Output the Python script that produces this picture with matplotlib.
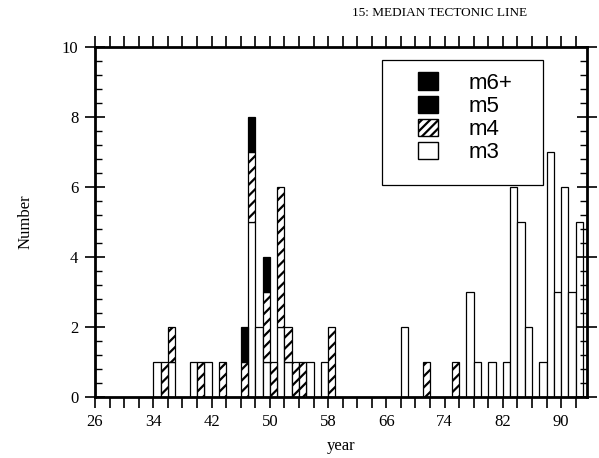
import matplotlib
matplotlib.use('Agg')
import matplotlib.pyplot as plt
from matplotlib.ticker import MultipleLocator
from matplotlib.patches import Patch, Rectangle
import numpy as np

# ---- data ----
years = [34, 35, 36, 39, 40, 41, 43, 46, 47, 48, 49, 50, 51, 52, 53, 54, 55, 57, 58,
         68, 71, 75, 77, 78, 80, 82, 83, 84, 85, 87, 88, 89, 90, 91, 92]
m3 = [1, 0, 1, 1, 0, 1, 0, 0, 5, 2, 1, 0, 2, 1, 0, 0, 1, 1, 0,
      2, 0, 0, 3, 1, 1, 1, 6, 5, 2, 1, 7, 3, 6, 3, 5]
m4 = [0, 1, 1, 0, 1, 0, 1, 1, 2, 0, 2, 1, 4, 1, 1, 1, 0, 0, 2,
      0, 1, 1, 0, 0, 0, 0, 0, 0, 0, 0, 0, 0, 0, 0, 0]
m5 = [0, 0, 0, 0, 0, 0, 0, 1, 1, 0, 1, 0, 0, 0, 0, 0, 0, 0, 0,
      0, 0, 0, 0, 0, 0, 0, 0, 0, 0, 0, 0, 0, 0, 0, 0]
m6 = [0] * len(years)

xtick_vals = [26, 34, 42, 50, 58, 66, 74, 82, 90]
ytick_vals = [0, 2, 4, 6, 8, 10]
title = "15: MEDIAN TECTONIC LINE"
legend_labels = ['m6+', 'm5', 'm4', 'm3']

plt.rcParams['hatch.linewidth'] = 1.6
serif = 'Liberation Serif'
sans = 'Liberation Sans'

W, H = 599, 458
fig = plt.figure(figsize=(W/100, H/100), dpi=100)
ax = fig.add_axes([95/W, 1-397/H, (587-95)/W, (397-47)/H])

x = np.array(years, dtype=float)
a3 = np.array(m3, float); a4 = np.array(m4, float)
a5 = np.array(m5, float); a6 = np.array(m6, float)

kw = dict(width=1.0, align='edge', edgecolor='black', linewidth=0.9)
ax.bar(x, a3, color='white', **kw)
ax.bar(x[a4 > 0], a4[a4 > 0], bottom=a3[a4 > 0], color='white', hatch='///', **kw)
ax.bar(x[a5 > 0], a5[a5 > 0], bottom=(a3 + a4)[a5 > 0], color='black', **kw)
if (a6 > 0).any():
    ax.bar(x[a6 > 0], a6[a6 > 0], bottom=(a3 + a4 + a5)[a6 > 0], color='black', **kw)

ax.set_xlim(26, 93.55)
ax.set_ylim(0, 10)

ax.set_xticks(xtick_vals)
ax.set_xticklabels([str(v) for v in xtick_vals], fontfamily=serif, fontsize=12)
ax.xaxis.set_minor_locator(MultipleLocator(2))
ax.set_yticks(ytick_vals)
ax.set_yticklabels([str(v) for v in ytick_vals], fontfamily=serif, fontsize=12)
ax.yaxis.set_minor_locator(MultipleLocator(0.4))

ax.tick_params(axis='x', which='both', direction='out', top=True, bottom=True,
               length=8, width=1.2, pad=4)
ax.tick_params(axis='y', which='major', direction='inout', left=True, right=True,
               length=14, width=1.2, pad=5)
ax.tick_params(axis='y', which='minor', direction='in', left=True, right=True,
               length=5, width=1.0)

for s in ax.spines.values():
    s.set_linewidth(2.0)

ax.set_ylabel("Number", fontfamily=serif, fontsize=12, labelpad=20)
ax.set_xlabel("year", fontfamily=serif, fontsize=12, labelpad=6)
fig.text(440/W, 1-13/H, title, fontfamily=serif, fontsize=9.5,
         ha='center', va='center')

fills = [('black', None), ('black', None), ('white', '////'), ('white', None)]
handles = [Patch(facecolor=f, edgecolor='black', hatch=h, label=l)
           for (f, h), l in zip(fills, legend_labels)]
leg = ax.legend(handles=handles, loc='upper left',
                bbox_to_anchor=(414/W, 1-68/H), bbox_transform=fig.transFigure,
                prop={'family': sans, 'size': 16}, frameon=False,
                handlelength=0.9, handleheight=0.81,
                handletextpad=1.35, borderpad=0.2, labelspacing=0.08,
                borderaxespad=0)
fig.add_artist(Rectangle((382/W, 1-185/H), (543-382)/W, (185-60)/H,
                         transform=fig.transFigure, fill=False,
                         edgecolor='black', linewidth=0.9))

fig.savefig('out.png', dpi=100)
